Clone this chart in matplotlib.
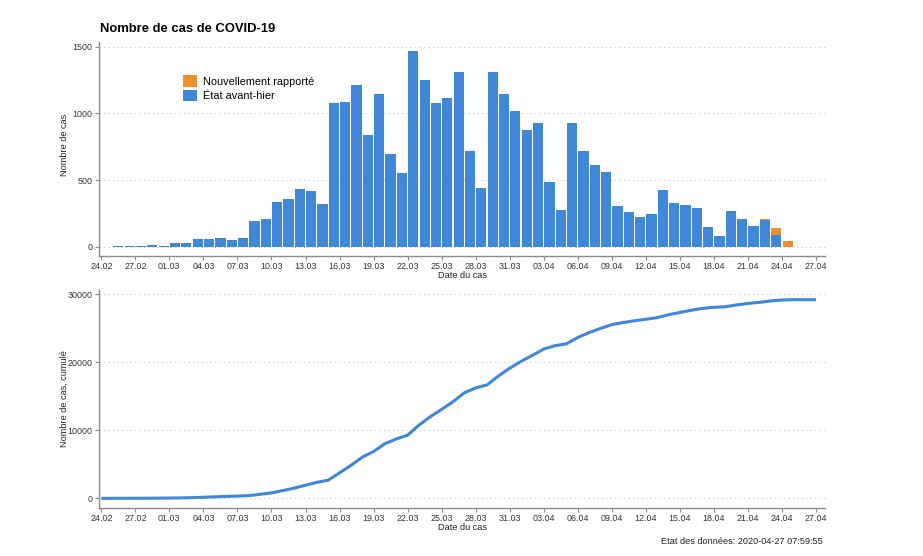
import numpy as np
import pandas as pd
import matplotlib
matplotlib.use('Agg')
import matplotlib.pyplot as plt

plt.rcParams['font.family'] = ['Liberation Sans', 'DejaVu Sans']

START = pd.Timestamp('2020-02-24')

# one bar per day, 25.02 .. 24.04
case_dates = pd.date_range('2020-02-25', '2020-04-24', freq='D')
cases_before = [8, 5, 7, 15, 7, 30, 30, 58, 58, 70, 48, 65,
                193, 210, 336, 358, 433, 421, 318,
                1075, 1087, 1216, 835, 1148, 697, 551,
                1470, 1248, 1075, 1117, 1312, 722, 439,
                1312, 1143, 1015, 877, 930, 489, 278,
                925, 717, 614, 559, 308, 258, 221,
                246, 426, 331, 316, 289, 150, 83,
                271, 211, 160, 200, 90, 0]
cases_new = [0] * 57 + [10, 50, 43]

tick_dates = pd.date_range('2020-02-24', '2020-04-27', freq='3D')
tick_labels = [d.strftime('%d.%m') for d in tick_dates]

BLUE = '#3f87d8'
ORANGE = '#f0902c'
GREY = '#8c8c8c'

days = np.array([(d - START).days for d in case_dates])
before = np.array(cases_before)
new = np.array(cases_new)
total = before + new

# cumulated count at the start of each day, 24.02 .. 27.04
line_x = np.arange(0, 64)
line_y = np.array([total[days < k].sum() for k in line_x])


def style_axes(ax, yticks):
	for s in ['top', 'right']:
		ax.spines[s].set_visible(False)
	for s in ['left', 'bottom']:
		ax.spines[s].set_color(GREY)
		ax.spines[s].set_linewidth(1.0)
	ax.set_xlim(-0.2, 63.8)
	ax.set_xticks([(d - START).days for d in tick_dates])
	ax.set_xticklabels(tick_labels)
	ax.set_yticks(yticks)
	ax.tick_params(labelsize=6.4, length=3, color=GREY, labelcolor='#333333', pad=1.5)
	ax.yaxis.grid(True, linestyle=(0, (1, 3)), color='#c8c8c8', linewidth=0.8)
	ax.set_axisbelow(True)
	ax.set_xlabel('Date du cas', fontsize=6.6, color='#222222', labelpad=0)


fig = plt.figure(figsize=(9.23, 5.56), dpi=100)
ax1 = fig.add_axes([0.1073, 0.5396, 0.7866, 0.3849])
ax2 = fig.add_axes([0.1073, 0.0863, 0.7866, 0.392])

b1 = ax1.bar(days + 0.5, before, width=0.9, color=BLUE, label='État avant-hier')
b2 = ax1.bar(days + 0.5, new, bottom=before, width=0.9, color=ORANGE, label='Nouvellement rapporté')
style_axes(ax1, [0, 500, 1000, 1500])
ax1.set_ylim(-68, 1535)
ax1.set_ylabel('Nombre de cas', fontsize=6.6, color='#222222')
ax1.yaxis.set_label_coords(-0.042, 0.52)
ax1.legend([b2, b1], ['Nouvellement rapporté', 'État avant-hier'], loc='upper left',
	bbox_to_anchor=(0.116, 0.845), frameon=False, fontsize=7.8, borderpad=0, borderaxespad=0,
	handlelength=1.3, handleheight=1.3, handletextpad=0.5, labelspacing=0.25)

ax2.plot(line_x, line_y, color=BLUE, linewidth=2.2, solid_capstyle='butt')
style_axes(ax2, [0, 10000, 20000, 30000])
ax2.set_ylim(-1420, 30600)
ax2.set_ylabel('Nombre de cas, cumulé', fontsize=6.6, color='#222222')
ax2.yaxis.set_label_coords(-0.042, 0.5)

fig.text(100 / 923, 1 - 29 / 556, 'Nombre de cas de COVID-19', fontsize=9.4,
	fontweight='bold', va='center', ha='left')
fig.text(823 / 923, 1 - 541 / 556, 'Etat des données: 2020-04-27 07:59:55', fontsize=6.6,
	va='center', ha='right', color='#222222')

fig.savefig('out.png', dpi=100)
